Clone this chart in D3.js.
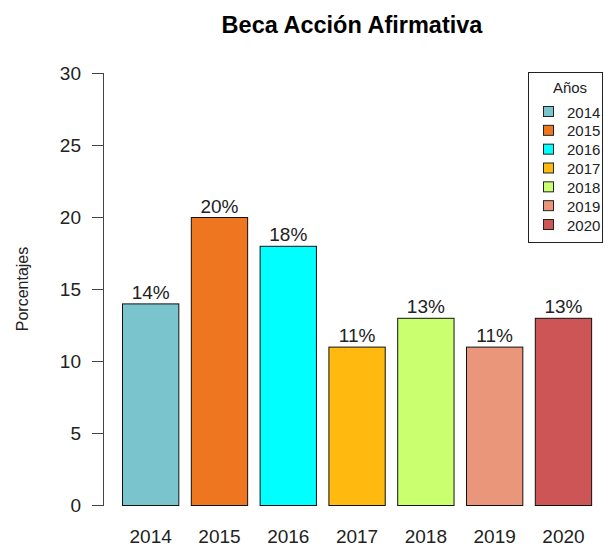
<!DOCTYPE html>
<html>
<head>
<meta charset="utf-8">
<script src="https://cdn.jsdelivr.net/npm/d3@7"></script>
<style>
  html, body { margin: 0; padding: 0; background: #fff; }
  svg { display: block; font-family: "Liberation Sans", Arial, sans-serif; }
</style>
</head>
<body>
<script>
// Porcentaje de becas por año
const years = ["2014", "2015", "2016", "2017", "2018", "2019", "2020"];
const values = [14, 20, 18, 11, 13, 11, 13];
const colors = ["#7AC5CD", "#EE7621", "#00FFFF", "#FFB90F", "#CAFF70", "#E9967A", "#CD5555"];
const yTicks = [0, 5, 10, 15, 20, 25, 30];

const W = 605, H = 548;
const svg = d3.select("body").append("svg").attr("width", W).attr("height", H);

const step = 68.8;
const x = d3.scaleBand()
  .domain(years)
  .range([122 - step / 12, 122 - step / 12 + step * years.length])
  .paddingInner(1 / 6)
  .paddingOuter(1 / 12);

const y = d3.scaleLinear().domain([0, 30]).range([505, 73]);

// Título
svg.append("text")
  .attr("x", 352).attr("y", 33)
  .attr("text-anchor", "middle")
  .attr("font-size", 23.5).attr("font-weight", "bold")
  .text("Beca Acción Afirmativa");

// Eje Y
const yAxis = svg.append("g")
  .attr("transform", "translate(104,0)")
  .call(d3.axisLeft(y).tickValues(yTicks).tickSize(12).tickPadding(11));
yAxis.select(".domain").attr("stroke", "#444").attr("d", `M-0.5,${y(0)}V${y(30)}`);
yAxis.selectAll(".tick line").attr("stroke", "#444");
yAxis.selectAll(".tick text").attr("font-size", 19).attr("fill", "#222")
  .attr("font-family", "'Liberation Sans', Arial, sans-serif");

svg.append("text")
  .attr("transform", `translate(28,${y(15)}) rotate(-90)`)
  .attr("text-anchor", "middle")
  .attr("font-size", 16).attr("fill", "#222")
  .text("Porcentajes");

// Barras
svg.append("g").selectAll("rect")
  .data(years)
  .join("rect")
  .attr("x", d => x(d) + 0.5)
  .attr("y", (d, i) => y(values[i]) + 0.5)
  .attr("width", x.bandwidth() - 1)
  .attr("height", (d, i) => y(0) - y(values[i]))
  .attr("fill", (d, i) => colors[i])
  .attr("stroke", "#111").attr("stroke-width", 1);

// Etiquetas de valor
svg.append("g").selectAll("text")
  .data(years)
  .join("text")
  .attr("x", d => x(d) + x.bandwidth() / 2)
  .attr("y", (d, i) => y(values[i]) - 4.5)
  .attr("text-anchor", "middle")
  .attr("font-size", 19).attr("fill", "#222")
  .text((d, i) => values[i] + "%");

// Etiquetas del eje X
svg.append("g").selectAll("text")
  .data(years)
  .join("text")
  .attr("x", d => x(d) + x.bandwidth() / 2)
  .attr("y", 543)
  .attr("text-anchor", "middle")
  .attr("font-size", 19).attr("fill", "#222")
  .text(d => d);

// Leyenda
const leg = svg.append("g");
leg.append("rect")
  .attr("x", 528.5).attr("y", 72.5)
  .attr("width", 74).attr("height", 170)
  .attr("fill", "#fff").attr("stroke", "#222");
leg.append("text")
  .attr("x", 570).attr("y", 93)
  .attr("text-anchor", "middle")
  .attr("font-size", 15).attr("fill", "#222")
  .text("Años");
const rowY = d3.scalePoint().domain(years).range([112, 225]);
leg.selectAll("rect.key")
  .data(years)
  .join("rect")
  .attr("class", "key")
  .attr("x", 543.5).attr("y", d => rowY(d) - 5.5)
  .attr("width", 10).attr("height", 10)
  .attr("fill", (d, i) => colors[i])
  .attr("stroke", "#222");
leg.selectAll("text.lab")
  .data(years)
  .join("text")
  .attr("class", "lab")
  .attr("x", 567).attr("y", d => rowY(d) + 5.5)
  .attr("font-size", 15).attr("fill", "#222")
  .text(d => d);
</script>
</body>
</html>
